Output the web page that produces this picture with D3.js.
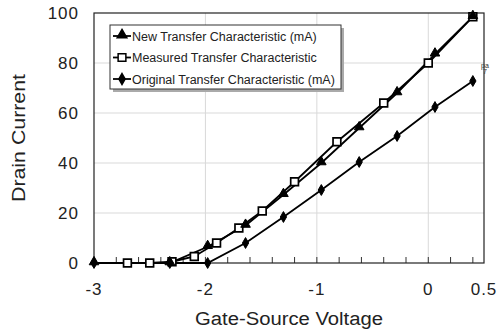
<!DOCTYPE html>
<html>
<head>
<meta charset="utf-8">
<script src="https://cdn.jsdelivr.net/npm/d3@7"></script>
<style>
  body { margin: 0; background: #fff; }
  text { font-family: "Liberation Sans", Arial, sans-serif; }
</style>
</head>
<body>
<script>
// data
const newX = [-3, -2.32, -1.98, -1.64, -1.30, -0.96, -0.62, -0.28, 0.06, 0.40];
const newY = [0, 0, 6.5, 15, 27.3, 40, 54, 68, 83.5, 98.5];
const measX = [-2.7, -2.5, -2.3, -2.1, -1.9, -1.7, -1.49, -1.2, -0.82, -0.4, 0, 0.4];
const measY = [0, 0, 0.5, 2.6, 8, 14, 20.8, 32.5, 48.5, 64, 80, 98.5];
const origX = [-3, -2.32, -1.98, -1.64, -1.30, -0.96, -0.62, -0.28, 0.06, 0.40];
const origY = [0, 0, 0, 8, 18.4, 29.2, 40.4, 50.8, 62.4, 72.8];
const seriesNames = ["New Transfer Characteristic (mA)", "Measured Transfer Characteristic", "Original Transfer Characteristic (mA)"];
const xTicks = [-3, -2, -1, 0, 0.5];
const yTicks = [0, 20, 40, 60, 80, 100];

const W = 497, H = 333;
const margin = {top: 13, right: 13, bottom: 70, left: 94};
const width = W - margin.left - margin.right,
      height = H - margin.top - margin.bottom;

const svg = d3.select("body").append("svg")
  .attr("width", W).attr("height", H);
const g = svg.append("g")
  .attr("transform", "translate(" + margin.left + "," + margin.top + ")");

const x = d3.scaleLinear().domain([-3, 0.5]).range([0, width]);
const y = d3.scaleLinear().domain([0, 100]).range([height, 0]);

// gridlines
g.selectAll(".hgrid").data([20, 40, 60, 80]).enter().append("line")
  .attr("x1", 0).attr("x2", width)
  .attr("y1", d => y(d)).attr("y2", d => y(d))
  .attr("stroke", "#d9d9d9").attr("stroke-width", 1);
g.selectAll(".vgrid").data([-2, -1, 0]).enter().append("line")
  .attr("y1", 0).attr("y2", height)
  .attr("x1", d => x(d)).attr("x2", d => x(d))
  .attr("stroke", "#d9d9d9").attr("stroke-width", 1);

// minor ticks along the bottom, pointing inward
const minor = d3.range(-2.8, 0.45, 0.2);
g.selectAll(".mtick").data(minor).enter().append("line")
  .attr("x1", d => x(d)).attr("x2", d => x(d))
  .attr("y1", height).attr("y2", height - 6)
  .attr("stroke", "#333").attr("stroke-width", 1);

// frame
g.append("rect").attr("width", width).attr("height", height)
  .attr("fill", "none").attr("stroke", "#222").attr("stroke-width", 1.2);

// tick labels
g.selectAll(".xl").data(xTicks).enter().append("text")
  .attr("x", d => x(d)).attr("y", height + 32)
  .attr("text-anchor", "middle").attr("font-size", 17).attr("letter-spacing", 1)
  .attr("fill", "#222")
  .text(d => d);
g.selectAll(".yl").data(yTicks).enter().append("text")
  .attr("x", -15).attr("y", d => y(d) + 6)
  .attr("text-anchor", "end").attr("font-size", 17).attr("letter-spacing", 1)
  .attr("fill", "#222")
  .text(d => d);

// axis titles
svg.append("text")
  .attr("x", 289).attr("y", 325)
  .attr("text-anchor", "middle").attr("font-size", 18).attr("fill", "#222")
  .attr("textLength", 188).attr("lengthAdjust", "spacingAndGlyphs")
  .text("Gate-Source Voltage");
svg.append("text")
  .attr("transform", "translate(25," + (margin.top + height / 2) + ") rotate(-90)")
  .attr("text-anchor", "middle").attr("font-size", 18).attr("fill", "#222")
  .attr("textLength", 128).attr("lengthAdjust", "spacingAndGlyphs")
  .text("Drain Current");

const line = d3.line().x(d => x(d[0])).y(d => y(d[1]));
const zip = (a, b) => a.map((v, i) => [v, b[i]]);

const measPts = zip(measX, measY), newPts = zip(newX, newY), origPts = zip(origX, origY);

g.append("path").attr("d", line(measPts)).attr("fill", "none").attr("stroke", "#000").attr("stroke-width", 1.8);
g.append("path").attr("d", line(newPts)).attr("fill", "none").attr("stroke", "#000").attr("stroke-width", 1.8);
g.append("path").attr("d", line(origPts)).attr("fill", "none").attr("stroke", "#000").attr("stroke-width", 1.8);

const sqSym = d3.symbol().type(d3.symbolSquare).size(60);
const triSym = d3.symbol().type(d3.symbolTriangle).size(40);
const diaSym = d3.symbol().type(d3.symbolDiamond).size(34);

g.selectAll(".sq").data(measPts).enter().append("path")
  .attr("d", sqSym).attr("transform", d => "translate(" + x(d[0]) + "," + y(d[1]) + ")")
  .attr("fill", "#fff").attr("stroke", "#000").attr("stroke-width", 1.7);
g.selectAll(".tri").data(newPts).enter().append("path")
  .attr("d", triSym).attr("transform", d => "translate(" + x(d[0]) + "," + (y(d[1]) - 1) + ")")
  .attr("fill", "#000").attr("stroke", "#000").attr("stroke-width", 1);
g.selectAll(".dia").data(origPts).enter().append("path")
  .attr("d", diaSym).attr("transform", d => "translate(" + x(d[0]) + "," + y(d[1]) + ")")
  .attr("fill", "#000").attr("stroke", "#000").attr("stroke-width", 1);

// stray end labels
g.append("text").attr("x", width - 3).attr("y", y(78)).attr("font-size", 7).attr("fill", "#333").text("pa");
g.append("text").attr("x", width - 1).attr("y", y(75.5)).attr("font-size", 7).attr("fill", "#333").text("7");

// legend
const lg = svg.append("g").attr("transform", "translate(110,25)");
lg.append("rect").attr("x", 3).attr("y", 3).attr("width", 231).attr("height", 64).attr("fill", "#aaa");
lg.append("rect").attr("width", 231).attr("height", 64).attr("fill", "#fff").attr("stroke", "#333").attr("stroke-width", 1);
const syms = [triSym, sqSym, diaSym];
const fills = ["#000", "#fff", "#000"];
seriesNames.forEach((name, i) => {
  const yy = 11 + i * 21.5;
  lg.append("line").attr("x1", 3).attr("x2", 21).attr("y1", yy).attr("y2", yy)
    .attr("stroke", "#000").attr("stroke-width", 1.8);
  lg.append("path").attr("d", syms[i]).attr("transform", "translate(12," + (i === 0 ? yy - 1 : yy) + ")")
    .attr("fill", fills[i]).attr("stroke", "#000").attr("stroke-width", 1.5);
  lg.append("text").attr("x", 22).attr("y", yy + 4.5).attr("font-size", 12.5).attr("fill", "#222")
    .text(name);
});
</script>
</body>
</html>
